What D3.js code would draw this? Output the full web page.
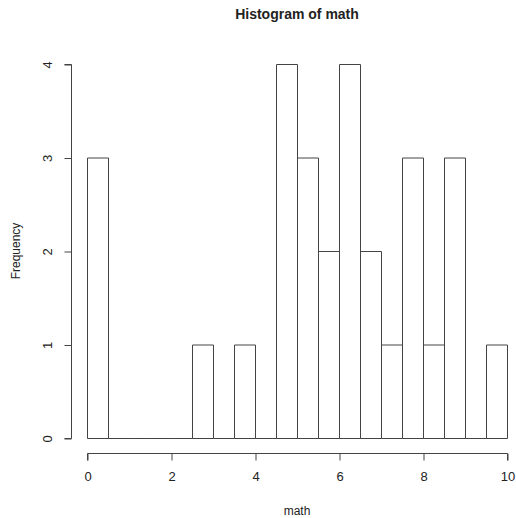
<!DOCTYPE html>
<html>
<head>
<meta charset="utf-8">
<script src="https://cdn.jsdelivr.net/npm/d3@7"></script>
<style>
body { margin: 0; background: #fff; }
text { font-family: "Liberation Sans", Arial, sans-serif; fill: #222; }
</style>
</head>
<body>
<script>
var binStarts = [0, 0.5, 1, 1.5, 2, 2.5, 3, 3.5, 4, 4.5, 5, 5.5, 6, 6.5, 7, 7.5, 8, 8.5, 9, 9.5];
var binWidth = 0.5;
var counts = [3, 0, 0, 0, 0, 1, 0, 1, 0, 4, 3, 2, 4, 2, 1, 3, 1, 3, 0, 1];
var xTicks = [0, 2, 4, 6, 8, 10];
var yTicks = [0, 1, 2, 3, 4];

var width = 516, height = 518;

var x = d3.scaleLinear().domain([0, 10]).range([87, 507]);
var y = d3.scaleLinear().domain([0, 4]).range([438, 64]);

var svg = d3.select("body").append("svg")
	.attr("width", width)
	.attr("height", height);

var bars = counts.map(function (c, i) {
	return { x0: binStarts[i], x1: binStarts[i] + binWidth, n: c };
});

// bars as closed paths so empty bins still draw along the baseline
svg.append("g").attr("transform", "translate(0.5,0.5)")
	.selectAll(".bar")
	.data(bars)
	.enter().append("path")
	.attr("class", "bar")
	.attr("d", function (d) {
		var a = x(d.x0), b = x(d.x1), t = y(d.n), z = y(0);
		return "M" + a + "," + z + "V" + t + "H" + b + "V" + z + "Z";
	})
	.attr("fill", "none")
	.attr("stroke", "#444")
	.attr("stroke-width", 1);

// x axis
var xAxis = svg.append("g")
	.attr("transform", "translate(0.5,453.5)")
	.call(d3.axisBottom(x).tickValues(xTicks).tickSize(7).tickPadding(11).tickFormat(d3.format("d")));
xAxis.select(".domain").attr("stroke", "#444").attr("d", "M" + x(0) + ",7V0H" + x(10) + "V7");
xAxis.selectAll(".tick line").attr("stroke", "#444");
xAxis.selectAll("text").style("font-size", "13px").attr("fill", "#222");

// y axis
var yAxis = svg.append("g")
	.attr("transform", "translate(71.5,0.5)")
	.call(d3.axisLeft(y).tickValues(yTicks).tickSize(7).tickFormat(d3.format("d")));
yAxis.select(".domain").attr("stroke", "#444").attr("d", "M-7," + y(0) + "H0V" + y(4) + "H-7");
yAxis.selectAll(".tick line").attr("stroke", "#444");
yAxis.selectAll(".tick text")
	.style("font-size", "13px")
	.attr("fill", "#222")
	.attr("x", null)
	.attr("text-anchor", "middle")
	.attr("transform", "translate(-24,0) rotate(-90)")
	.attr("y", 0)
	.attr("dy", "0.35em");

// labels
svg.append("text")
	.attr("x", 297).attr("y", 19)
	.attr("text-anchor", "middle")
	.style("font-size", "14px")
	.style("font-weight", "bold")
	.text("Histogram of math");

svg.append("text")
	.attr("x", 297).attr("y", 515)
	.attr("text-anchor", "middle")
	.style("font-size", "12px")
	.text("math");

svg.append("text")
	.attr("transform", "translate(20,251) rotate(-90)")
	.attr("text-anchor", "middle")
	.style("font-size", "12px")
	.text("Frequency");
</script>
</body>
</html>
